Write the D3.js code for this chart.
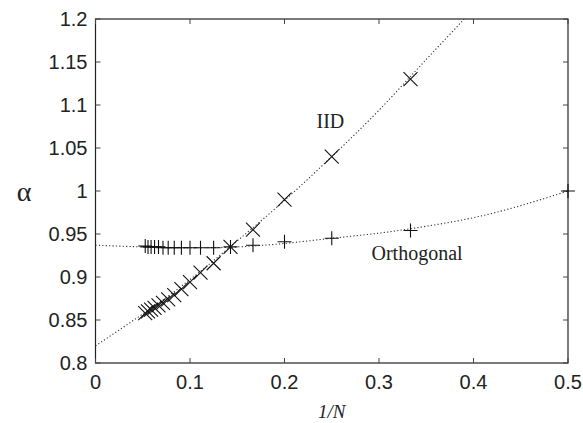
<!DOCTYPE html>
<html>
<head>
<meta charset="utf-8">
<script src="https://cdn.jsdelivr.net/npm/d3@7"></script>
<style>
  body { margin: 0; background: #fff; }
  .tick-label { font-family: "Liberation Sans", Arial, sans-serif; font-size: 20px; fill: #222; }
  .annot { font-family: "Liberation Serif", "Times New Roman", serif; font-size: 20px; fill: #222; }
</style>
</head>
<body>
<svg width="583" height="423"></svg>
<script>
// measured points, x = 1/N
var iidN = [3, 4, 5, 6, 7, 8, 9, 10, 11, 12, 13, 14, 15, 16, 17, 18, 19];
var iidAlpha = [1.13, 1.04, 0.99, 0.955, 0.935, 0.916, 0.905, 0.894, 0.886, 0.879, 0.874, 0.870, 0.867, 0.864, 0.862, 0.860, 0.858];

var orthN = [2, 3, 4, 5, 6, 7, 8, 9, 10, 11, 12, 13, 14, 15, 16, 17, 18, 19];
var orthAlpha = [1.0, 0.954, 0.945, 0.941, 0.937, 0.935, 0.934, 0.934, 0.934, 0.934, 0.934, 0.934, 0.934, 0.935, 0.935, 0.935, 0.935, 0.936];

// fitted curves (dotted)
var iidFitX = [0, 0.05, 0.1, 0.15, 0.2, 0.25, 0.3, 0.35, 0.39, 0.42];
var iidFitY = [0.82, 0.857, 0.897, 0.942, 0.989, 1.040, 1.094, 1.153, 1.2, 1.24];
var orthFitX = [0, 0.05, 0.1, 0.15, 0.2, 0.25, 0.3, 0.35, 0.4, 0.45, 0.5];
var orthFitY = [0.937, 0.935, 0.934, 0.935, 0.939, 0.945, 0.951, 0.959, 0.969, 0.983, 1.0];

var xTicks = [0, 0.1, 0.2, 0.3, 0.4, 0.5];
var yTicks = [0.8, 0.85, 0.9, 0.95, 1, 1.05, 1.1, 1.15, 1.2];

var svg = d3.select("svg"),
  margin = {top: 19, right: 15, bottom: 60, left: 95.5},
  width = +svg.attr("width") - margin.left - margin.right,
  height = +svg.attr("height") - margin.top - margin.bottom;

var g = svg.append("g").attr("transform", "translate(" + margin.left + "," + margin.top + ")");

var x = d3.scaleLinear().domain([0, 0.5]).range([0, width]);
var y = d3.scaleLinear().domain([0.8, 1.2]).range([height, 0]);

g.append("clipPath").attr("id", "clip")
  .append("rect").attr("width", width).attr("height", height);

// frame
g.append("rect")
  .attr("width", width).attr("height", height)
  .attr("fill", "none").attr("stroke", "#222").attr("stroke-width", 1.2);

// inward ticks on all sides
var tk = 5;
xTicks.forEach(function(t) {
  g.append("line").attr("x1", x(t)).attr("x2", x(t)).attr("y1", height).attr("y2", height - tk).attr("stroke", "#444");
  g.append("line").attr("x1", x(t)).attr("x2", x(t)).attr("y1", 0).attr("y2", tk).attr("stroke", "#444");
  g.append("text").attr("class", "tick-label")
    .attr("x", x(t)).attr("y", height + 26)
    .attr("text-anchor", "middle")
    .text(d3.format("")(t));
});
yTicks.forEach(function(t) {
  g.append("line").attr("x1", 0).attr("x2", tk).attr("y1", y(t)).attr("y2", y(t)).attr("stroke", "#444");
  g.append("line").attr("x1", width).attr("x2", width - tk).attr("y1", y(t)).attr("y2", y(t)).attr("stroke", "#444");
  g.append("text").attr("class", "tick-label")
    .attr("x", -8).attr("y", y(t))
    .attr("dy", "0.36em")
    .attr("text-anchor", "end")
    .text(d3.format("")(t));
});

// fit curves
var line = d3.line()
  .x(function(d) { return x(d[0]); })
  .y(function(d) { return y(d[1]); })
  .curve(d3.curveNatural);

var plot = g.append("g").attr("clip-path", "url(#clip)");

plot.append("path")
  .datum(d3.zip(iidFitX, iidFitY))
  .attr("d", line)
  .attr("fill", "none").attr("stroke", "#333").attr("stroke-width", 1.1)
  .attr("stroke-dasharray", "1.2,2.2");

plot.append("path")
  .datum(d3.zip(orthFitX, orthFitY))
  .attr("d", line)
  .attr("fill", "none").attr("stroke", "#333").attr("stroke-width", 1.1)
  .attr("stroke-dasharray", "1.2,2.2");

// markers
var m = 7;
g.selectAll(".orth")
  .data(d3.zip(orthN, orthAlpha))
  .enter().append("path")
  .attr("class", "orth")
  .attr("d", function(d) {
    var cx = x(1 / d[0]), cy = y(d[1]);
    return "M" + (cx - m) + "," + cy + "H" + (cx + m) + "M" + cx + "," + (cy - m) + "V" + (cy + m);
  })
  .attr("stroke", "#111").attr("stroke-width", 1.1).attr("fill", "none");

var k = 7;
g.selectAll(".iid")
  .data(d3.zip(iidN, iidAlpha))
  .enter().append("path")
  .attr("class", "iid")
  .attr("d", function(d) {
    var cx = x(1 / d[0]), cy = y(d[1]);
    return "M" + (cx - k) + "," + (cy - k) + "L" + (cx + k) + "," + (cy + k) +
      "M" + (cx - k) + "," + (cy + k) + "L" + (cx + k) + "," + (cy - k);
  })
  .attr("stroke", "#111").attr("stroke-width", 1.1).attr("fill", "none");

// annotations
g.append("text").attr("class", "annot")
  .attr("x", 221).attr("y", 109)
  .text("IID");

g.append("text").attr("class", "annot")
  .attr("x", 371.5 - margin.left).attr("y", 260 - margin.top)
  .text("Orthogonal");

// axis titles
svg.append("text")
  .attr("x", 24).attr("y", y(1) + margin.top)
  .attr("dy", "0.36em")
  .attr("text-anchor", "middle")
  .style("font-family", "'Liberation Serif', serif")
  .style("font-size", "28px")
  .style("fill", "#222")
  .text("α");

svg.append("text")
  .attr("x", margin.left + width / 2).attr("y", 418)
  .attr("text-anchor", "middle")
  .style("font-family", "'Liberation Serif', serif")
  .style("font-style", "italic")
  .style("font-size", "19px")
  .style("fill", "#222")
  .text("1/N");
</script>
</body>
</html>
